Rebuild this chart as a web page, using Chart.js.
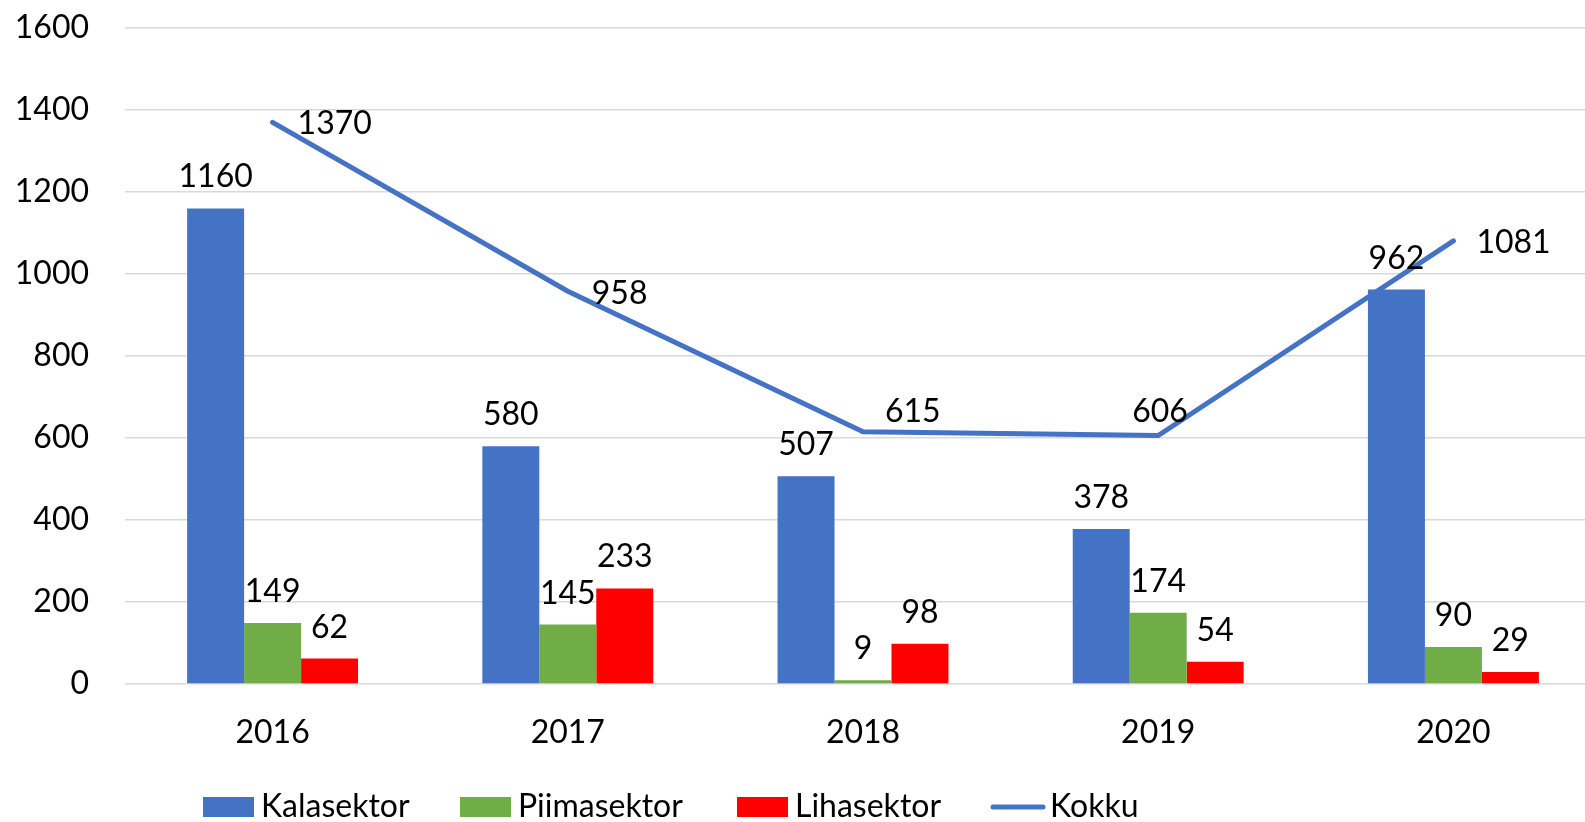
<!DOCTYPE html>
<html lang="et">
<head>
    <meta charset="UTF-8">
    <title>Sektorid 2016–2020</title>
    <script src="https://cdn.jsdelivr.net/npm/chart.js"></script>
    <style>
        html, body {
            margin: 0;
            padding: 0;
            background: #fff;
            overflow: hidden;
        }

        .wrap {
            width: 1585px;
            height: 822px;
            overflow: hidden;
            position: relative;
        }

        .wrap canvas {
            position: absolute;
            left: 0;
            top: 0;
        }
    </style>
</head>
<body>
    <div class="wrap">
        <canvas id="chart" width="1601" height="822"></canvas>
    </div>

    <script>
        // Data
        const years = ['2016', '2017', '2018', '2019', '2020'];
        const kalasektor = [1160, 580, 507, 378, 962];
        const piimasektor = [149, 145, 9, 174, 90];
        const lihasektor = [62, 233, 98, 54, 29];
        const kokku = [1370, 958, 615, 606, 1081];
        const yTicks = [0, 200, 400, 600, 800, 1000, 1200, 1400, 1600];

        // Style
        const FONT = '32px Lato';
        const BLUE = '#4472C4';
        const GREEN = '#70AD47';
        const RED = '#FF0000';
        // where each Kokku label sits relative to its point (dx, dy)
        const lineLabelShift = [[25, 1], [24, 2], [22, -20], [-26, -24], [23, 2]];
        const legendX = [203, 460, 737, 990];

        Chart.defaults.font.family = 'Lato';
        Chart.defaults.font.size = 32;
        Chart.defaults.color = '#000';

        // Value labels above bars / beside line points
        const valueLabels = {
            id: 'valueLabels',
            afterDatasetsDraw(chart) {
                const ctx = chart.ctx;
                ctx.save();
                ctx.font = FONT;
                ctx.fillStyle = '#000';
                chart.data.datasets.forEach((ds, di) => {
                    const meta = chart.getDatasetMeta(di);
                    meta.data.forEach((el, i) => {
                        const v = ds.data[i];
                        if (ds.type === 'line') {
                            const [dx, dy] = lineLabelShift[i];
                            ctx.textAlign = 'left';
                            ctx.textBaseline = 'middle';
                            ctx.fillText(v, el.x + dx, el.y + dy);
                        } else {
                            ctx.textAlign = 'center';
                            ctx.textBaseline = 'alphabetic';
                            ctx.fillText(v, el.x, el.y - 21);
                        }
                    });
                });
                ctx.restore();
            }
        };

        // Legend row under the axis
        const bottomLegend = {
            id: 'bottomLegend',
            afterDraw(chart) {
                const ctx = chart.ctx;
                const y = 807;
                ctx.save();
                ctx.font = FONT;
                ctx.textAlign = 'left';
                ctx.textBaseline = 'middle';
                chart.data.datasets.forEach((ds, i) => {
                    let x = legendX[i];
                    if (ds.type === 'line') {
                        ctx.strokeStyle = ds.borderColor;
                        ctx.lineWidth = 5;
                        ctx.lineCap = 'round';
                        ctx.beginPath();
                        ctx.moveTo(x + 3, y);
                        ctx.lineTo(x + 53, y);
                        ctx.stroke();
                        x += 60;
                    } else {
                        ctx.fillStyle = ds.backgroundColor;
                        ctx.fillRect(x, y - 10, 51, 20);
                        x += 58;
                    }
                    ctx.fillStyle = '#000';
                    ctx.fillText(ds.label, x, y);
                });
                ctx.restore();
            }
        };

        const chart = new Chart(document.getElementById('chart'), {
            data: {
                labels: years,
                datasets: [
                    { type: 'bar', label: 'Kalasektor', data: kalasektor, backgroundColor: BLUE, order: 1 },
                    { type: 'bar', label: 'Piimasektor', data: piimasektor, backgroundColor: GREEN, order: 1 },
                    { type: 'bar', label: 'Lihasektor', data: lihasektor, backgroundColor: RED, order: 1 },
                    {
                        type: 'line',
                        label: 'Kokku',
                        data: kokku,
                        borderColor: BLUE,
                        backgroundColor: BLUE,
                        borderWidth: 5,
                        borderCapStyle: 'round',
                        pointRadius: 0,
                        tension: 0,
                        fill: false,
                        order: 0
                    }
                ]
            },
            options: {
                responsive: false,
                animation: false,
                layout: { padding: { top: 28, left: 0, right: 0, bottom: 0 } },
                datasets: {
                    bar: { categoryPercentage: 0.579, barPercentage: 1.0 }
                },
                plugins: {
                    legend: { display: false },
                    tooltip: { enabled: false }
                },
                scales: {
                    x: {
                        offset: true,
                        grid: { display: false, drawTicks: false },
                        border: { display: false },
                        ticks: { padding: 29, color: '#000' },
                        afterFit(scale) {
                            scale.height = 138;
                            scale.paddingLeft = 0;
                            scale.paddingRight = 0;
                        }
                    },
                    y: {
                        min: 0,
                        max: 1600,
                        afterBuildTicks(scale) {
                            scale.ticks = yTicks.map(v => ({ value: v }));
                        },
                        grid: { color: '#D9D9D9', lineWidth: 1.5, drawTicks: false },
                        border: { display: false },
                        ticks: {
                            padding: 36,
                            color: '#000',
                            callback: v => String(v)
                        },
                        afterFit(scale) {
                            scale.width = 125;
                            scale.paddingTop = 0;
                            scale.paddingBottom = 0;
                        }
                    }
                }
            },
            plugins: [valueLabels, bottomLegend]
        });
    </script>
</body>
</html>
